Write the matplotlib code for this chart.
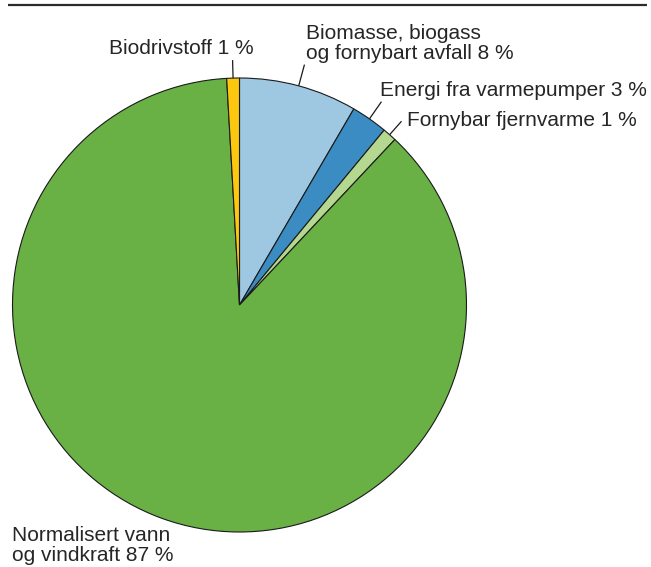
import numpy as np
import matplotlib.pyplot as plt

plt.rcParams['font.family'] = ['Liberation Sans', 'DejaVu Sans']

# Fornybar energi, andel av total (prosent)
labels = ['Biomasse, biogass\nog fornybart avfall', 'Energi fra varmepumper',
          'Fornybar fjernvarme', 'Normalisert vann\nog vindkraft', 'Biodrivstoff']
shares = [8.4, 2.6, 1.0, 87.1, 0.9]
colors = ['#9ec8e2', '#3a8cc3', '#b5d890', '#69b045', '#fcc70f']

W, H = 651, 567
fig = plt.figure(figsize=(W / 100, H / 100), dpi=100)
ax = fig.add_axes([0, 0, 1, 1])

cx, cy, r = 239.5, H - 305, 227
wedges, _ = ax.pie(shares, colors=colors, startangle=90, counterclock=False,
                   center=(cx, cy), radius=r, frame=True,
                   wedgeprops=dict(edgecolor='#1a1a1a', linewidth=0.8))
ax.set_xlim(0, W)
ax.set_ylim(0, H)
ax.set_aspect('equal')
ax.axis('off')

# label anchor (x, baseline y from top), alignment and leader length
label_pos = [(306, 59, 'left', 22), (380, 96, 'left', 21),
             (407, 126, 'left', 18), (12, 561, 'left', 0), (181, 54, 'center', 18)]
txt = dict(fontsize=15, color='#262626')
for w, lab, v, (tx, ty, ha, lead) in zip(wedges, labels, shares, label_pos):
    if lead:
        a = np.deg2rad((w.theta1 + w.theta2) / 2)
        ax.plot([cx + r * np.cos(a), cx + (r + lead) * np.cos(a)],
                [cy + r * np.sin(a), cy + (r + lead) * np.sin(a)],
                color='#1a1a1a', lw=0.9, solid_capstyle='butt')
    ax.text(tx, H - ty, f'{lab} {round(v)} %', ha=ha, va='baseline',
            linespacing=1.05, **txt)

# rule across the top
ax.plot([8, 647], [H - 4.5, H - 4.5], color='#2b2b2b', lw=1.6, solid_capstyle='butt')

fig.savefig('out.png', dpi=100)
